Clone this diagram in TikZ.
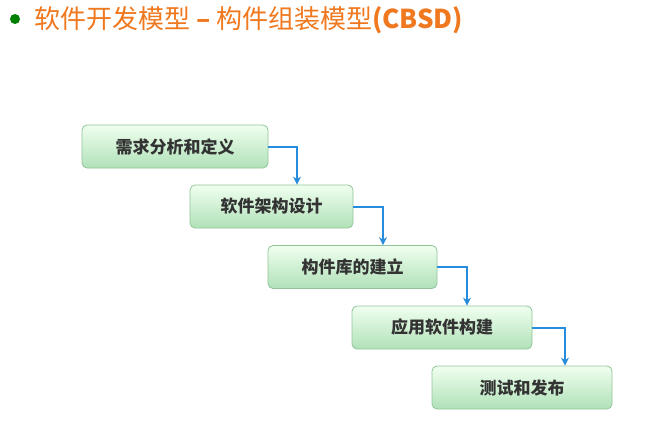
\documentclass[tikz,border=0pt]{standalone}
\usepackage{fontspec}
\setmainfont{Noto Sans CJK SC}
\usetikzlibrary{arrows.meta}
\definecolor{ttl}{RGB}{240,120,30}
\definecolor{bx}{RGB}{150,215,160}
\definecolor{arr}{RGB}{40,140,220}
\tikzset{
  x=1pt,y=-1pt,
  box/.style={draw=bx!80!gray,line width=0.8pt,rounded corners=5pt,top color=green!6,bottom color=bx!75,
    minimum width=#1,minimum height=43pt,font=\fontsize{17}{19}\selectfont\bfseries,text=black!80,inner sep=0pt},
  conn/.style={draw=arr,line width=2pt,-{Stealth[length=8pt,width=8pt]}}
}
\begin{document}
\begin{tikzpicture}
\useasboundingbox[fill=white] (0,0) rectangle (658,433);
\node[circle,fill=green!50!black,minimum size=10pt,inner sep=0pt] (ic) at (15,19) {};
\node[anchor=west,text=ttl,font=\fontsize{26}{28}\selectfont,inner sep=0pt] (t) at (34,20) {软件开发模型 \textbf{–} 构件组装模型\textbf{(CBSD)}};
\node[box=186pt] (b1) at (175,146.5) {需求分析和定义};
\node[box=163pt] (b2) at (271.5,206.5) {软件架构设计};
\node[box=169pt] (b3) at (352.5,267) {构件库的建立};
\node[box=180pt] (b4) at (442,327.5) {应用软件构建};
\node[box=180pt] (b5) at (522,387.5) {测试和发布};
\draw[conn] (b1.east) -| (297,0|-b2.north);
\draw[conn] (b2.east) -| (383,0|-b3.north);
\draw[conn] (b3.east) -| (467,0|-b4.north);
\draw[conn] (b4.east) -| (565,0|-b5.north);
\end{tikzpicture}
\end{document}
